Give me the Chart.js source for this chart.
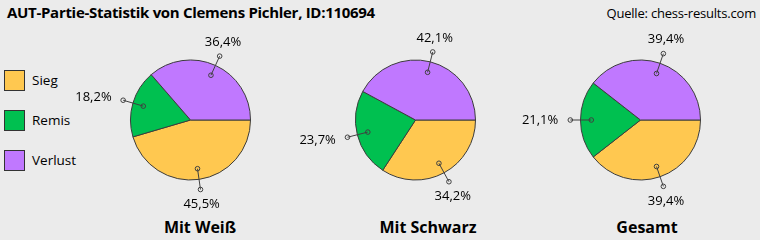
<!DOCTYPE html>
<html>
<head>
<meta charset="utf-8">
<script src="https://cdn.jsdelivr.net/npm/chart.js@4/dist/chart.umd.min.js"></script>
<style>
  html, body { margin: 0; padding: 0; }
  body { width: 760px; height: 240px; background: #ebebeb; position: relative; overflow: hidden;
         font-family: "Open Sans", "Noto Sans", sans-serif; color: #000; }
  .abs { position: absolute; white-space: nowrap; }
  #title { left: 7px; top: 2px; font-size: 15px; font-weight: bold; letter-spacing: -0.3px; }
  #source { right: 4px; top: 4px; font-size: 13px; letter-spacing: -0.2px; }
  .sq { position: absolute; left: 4px; width: 19px; height: 19px; border: 1px solid #333; }
  .lg { position: absolute; left: 32px; font-size: 13.5px; line-height: 20px; }
  .pt { position: absolute; top: 216px; font-size: 16px; font-weight: bold; text-align: center; width: 160px; }
  canvas { position: absolute; top: 0; }
</style>
</head>
<body>
<div id="title" class="abs">AUT-Partie-Statistik von Clemens Pichler, ID:110694</div>
<div id="source" class="abs">Quelle: chess-results.com</div>
<div id="legend"></div>
<div id="titles"></div>
<canvas id="pie0" width="300" height="240"></canvas>
<canvas id="pie1" width="300" height="240"></canvas>
<canvas id="pie2" width="300" height="240"></canvas>
<script>
const categories = ['Sieg', 'Remis', 'Verlust'];
const pieTitles = ['Mit Weiß', 'Mit Schwarz', 'Gesamt'];
const mitWeiss = [45.5, 18.2, 36.4];
const mitSchwarz = [34.2, 23.7, 42.1];
const gesamt = [39.4, 21.1, 39.4];
const colors = ['#ffc850', '#00c050', '#c078ff'];

const series = [mitWeiss, mitSchwarz, gesamt];
const canvasLeft = [40, 265, 490];
const titleCenter = [200, 428, 647];

// legend
const legend = document.getElementById('legend');
categories.forEach((c, i) => {
  const sq = document.createElement('div');
  sq.className = 'sq';
  sq.style.top = (70 + i * 40) + 'px';
  sq.style.background = colors[i];
  legend.appendChild(sq);
  const t = document.createElement('div');
  t.className = 'lg';
  t.style.top = (70 + i * 40) + 'px';
  t.textContent = c;
  legend.appendChild(t);
});

// titles under the pies
const titles = document.getElementById('titles');
pieTitles.forEach((s, i) => {
  const d = document.createElement('div');
  d.className = 'pt';
  d.style.left = (titleCenter[i] - 80) + 'px';
  d.textContent = s;
  titles.appendChild(d);
});

const fmt = v => v.toFixed(1).replace('.', ',') + '%';

const leaderLabels = {
  id: 'leaderLabels',
  afterDatasetsDraw(chart) {
    const ctx = chart.ctx;
    const meta = chart.getDatasetMeta(0);
    const data = chart.data.datasets[0].data;
    ctx.save();
    meta.data.forEach((arc, i) => {
      const p = arc.getProps(['x', 'y', 'startAngle', 'endAngle', 'outerRadius'], true);
      const a = (p.startAngle + p.endAngle) / 2;
      const c = Math.cos(a), s = Math.sin(a);
      const r = p.outerRadius;
      const x1 = p.x + c * r * 0.82, y1 = p.y + s * r * 0.82;
      const x2 = p.x + c * r * 1.17, y2 = p.y + s * r * 1.17;
      ctx.strokeStyle = '#404040';
      ctx.lineWidth = 1;
      ctx.beginPath();
      ctx.moveTo(x1, y1);
      ctx.lineTo(x2, y2);
      ctx.stroke();
      [[x1, y1], [x2, y2]].forEach(([x, y]) => {
        ctx.beginPath();
        ctx.arc(x, y, 2.3, 0, Math.PI * 2);
        ctx.stroke();
      });
      ctx.fillStyle = '#000';
      ctx.font = '13px "Open Sans", "Noto Sans", sans-serif';
      ctx.textBaseline = 'middle';
      let tx, ty;
      if (Math.abs(c) > 0.7) {
        ctx.textAlign = c < 0 ? 'right' : 'left';
        tx = x2 + c * 12;
        ty = y2 + s * 12;
      } else {
        ctx.textAlign = 'center';
        tx = x2 + c * 8;
        ty = y2 + (s < 0 ? -14 : 15);
      }
      ctx.fillText(fmt(data[i]), tx, ty);
    });
    ctx.restore();
  }
};

series.forEach((vals, k) => {
  const cv = document.getElementById('pie' + k);
  cv.style.left = canvasLeft[k] + 'px';
  new Chart(cv.getContext('2d'), {
    type: 'pie',
    data: {
      labels: categories,
      datasets: [{
        data: vals,
        backgroundColor: colors,
        borderColor: '#3c3c3c',
        borderWidth: 1
      }]
    },
    options: {
      responsive: false,
      animation: false,
      rotation: 90,
      layout: { padding: { left: 90, right: 89, top: 59, bottom: 59 } },
      plugins: { legend: { display: false }, tooltip: { enabled: false } }
    },
    plugins: [leaderLabels]
  });
});
</script>
</body>
</html>
